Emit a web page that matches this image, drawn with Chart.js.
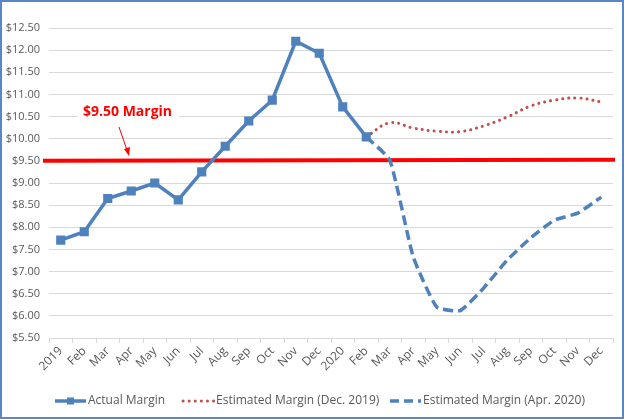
<!DOCTYPE html>
<html>
<head>
<meta charset="utf-8">
<script src="https://cdn.jsdelivr.net/npm/chart.js@4"></script>
<style>
  html, body { margin: 0; padding: 0; background: #fff; }
  #wrap { width: 624px; height: 419px; position: relative; }
</style>
</head>
<body>
<div id="wrap"><canvas id="myChart"></canvas></div>
<script>
const months = ['2019', 'Feb', 'Mar', 'Apr', 'May', 'Jun', 'Jul', 'Aug', 'Sep', 'Oct', 'Nov', 'Dec',
    '2020', 'Feb', 'Mar', 'Apr', 'May', 'Jun', 'Jul', 'Aug', 'Sep', 'Oct', 'Nov', 'Dec']

const actualMargin = [7.71, 7.90, 8.65, 8.82, 9.00, 8.62, 9.25, 9.83, 10.40, 10.87, 12.20, 11.93,
    10.72, 10.04, null, null, null, null, null, null, null, null, null, null]
const estimatedDec2019 = [null, null, null, null, null, null, null, null, null, null, null, null,
    null, 10.04, 10.36, 10.24, 10.17, 10.16, 10.29, 10.49, 10.74, 10.87, 10.92, 10.83]
const estimatedApr2020 = [null, null, null, null, null, null, null, null, null, null, null, null,
    null, 10.04, 9.52, 7.33, 6.20, 6.12, 6.63, 7.26, 7.76, 8.16, 8.32, 8.68]

const marginLevel = 9.50
const marginLabel = '$9.50 Margin'

const blue = '#4F81BD'
const darkRed = '#C0504D'

// red target line, the label with its arrow, the legend and the frame
const extras = {
    id: 'extras',
    beforeDatasetsDraw(chart) {
        const ctx = chart.ctx
        const area = chart.chartArea
        const y = chart.scales.y.getPixelForValue(marginLevel)
        ctx.save()
        ctx.strokeStyle = '#FF0000'
        ctx.lineWidth = 4
        ctx.beginPath()
        ctx.moveTo(area.left - 6, y)
        ctx.lineTo(area.right + 2, y - 1)
        ctx.stroke()

        // white patch behind the label, like the text box in the original
        ctx.font = 'bold 14px "Open Sans"'
        const tw = ctx.measureText(marginLabel).width
        ctx.fillStyle = '#fff'
        ctx.fillRect(78, 101, tw + 12, 22)
        ctx.fillStyle = '#FF0000'
        ctx.textBaseline = 'middle'
        ctx.fillText(marginLabel, 83, 112)

        // arrow
        ctx.strokeStyle = '#FF0000'
        ctx.lineWidth = 1
        ctx.beginPath()
        ctx.moveTo(119, 127)
        ctx.lineTo(128, 153)
        ctx.stroke()
        ctx.beginPath()
        ctx.moveTo(129, 156)
        ctx.lineTo(124, 149)
        ctx.lineTo(130, 147)
        ctx.closePath()
        ctx.fillStyle = '#FF0000'
        ctx.fill()
        ctx.restore()
    },
    afterDraw(chart) {
        const ctx = chart.ctx
        ctx.save()
        const ly = 401
        ctx.font = '12px "Open Sans"'
        ctx.fillStyle = '#595959'
        ctx.textBaseline = 'middle'
        const items = [
            { x: 55, text: 'Actual Margin', color: blue, width: 3.5, dash: [], cap: 'butt', marker: true },
            { x: 183, text: 'Estimated Margin (Dec. 2019)', color: darkRed, width: 3, dash: [0.1, 6], cap: 'round' },
            { x: 390, text: 'Estimated Margin (Apr. 2020)', color: blue, width: 3.5, dash: [9, 5], cap: 'butt' }
        ]
        items.forEach((it) => {
            ctx.strokeStyle = it.color
            ctx.lineWidth = it.width
            ctx.lineCap = it.cap
            ctx.setLineDash(it.dash)
            ctx.beginPath()
            ctx.moveTo(it.x, ly)
            ctx.lineTo(it.x + 31, ly)
            ctx.stroke()
            ctx.setLineDash([])
            if (it.marker) {
                ctx.fillStyle = it.color
                ctx.fillRect(it.x + 12, ly - 3.5, 7, 7)
            }
            ctx.fillStyle = '#595959'
            ctx.fillText(it.text, it.x + 33, ly)
        })

        ctx.strokeStyle = '#5B86C5'
        ctx.lineWidth = 2
        ctx.strokeRect(1, 1, chart.width - 2, chart.height - 2)
        ctx.restore()
    }
}

const data = {
    labels: months,
    datasets: [{
        label: 'Actual Margin',
        data: actualMargin,
        borderColor: blue,
        backgroundColor: blue,
        borderWidth: 3.5,
        pointStyle: 'rect',
        pointRadius: 4,
        pointHoverRadius: 4,
        tension: 0,
        spanGaps: false
    }, {
        label: 'Estimated Margin (Dec. 2019)',
        data: estimatedDec2019,
        borderColor: darkRed,
        borderWidth: 3,
        borderDash: [0.1, 6],
        borderCapStyle: 'round',
        pointRadius: 0,
        tension: 0.4
    }, {
        label: 'Estimated Margin (Apr. 2020)',
        data: estimatedApr2020,
        borderColor: blue,
        borderWidth: 3.5,
        borderDash: [10, 5],
        pointRadius: 0,
        tension: 0.15
    }]
}

const config = {
    type: 'line',
    data: data,
    plugins: [extras],
    options: {
        responsive: true,
        maintainAspectRatio: false,
        animation: false,
        layout: { padding: { left: 0, top: 28, right: 11, bottom: 45 } },
        plugins: {
            legend: { display: false },
            tooltip: { enabled: false }
        },
        scales: {
            x: {
                offset: true,
                grid: {
                    offset: true,
                    drawOnChartArea: false,
                    drawTicks: true,
                    tickLength: 5,
                    color: '#d9d9d9'
                },
                border: { display: true, color: '#d9d9d9' },
                ticks: {
                    autoSkip: false,
                    minRotation: 45,
                    maxRotation: 45,
                    padding: 1,
                    color: '#595959',
                    font: { family: 'Open Sans', size: 12 }
                },
                afterFit(scale) { scale.height = 36 }
            },
            y: {
                min: 5.5,
                max: 12.5,
                ticks: {
                    stepSize: 0.5,
                    padding: 9,
                    color: '#595959',
                    font: { family: 'Open Sans', size: 11 },
                    callback: (v) => '$' + Number(v).toFixed(2)
                },
                grid: { color: '#d9d9d9', drawTicks: false },
                border: { display: false },
                afterFit(scale) { scale.width = 49 }
            }
        }
    }
}

new Chart(document.getElementById('myChart'), config)
</script>
</body>
</html>
